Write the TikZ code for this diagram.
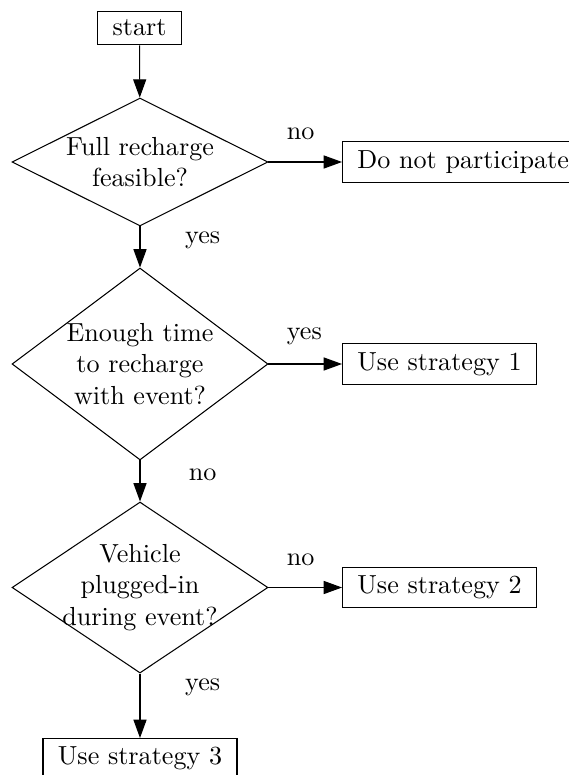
\documentclass[tikz,border=0pt]{standalone}
\usetikzlibrary{arrows.meta,shapes.geometric}

\begin{document}
\begin{tikzpicture}[
  x=0.383pt, y=-0.383pt,
  blk/.style={draw, rectangle, inner xsep=5.7pt, inner ysep=3.3pt},
  dec/.style={draw, diamond, aspect=1.33, inner sep=-5pt, minimum width=98pt, align=center},
  lnk/.style={-{Triangle[length=7pt,width=5pt]}},
  lblr/.style={pos=0, anchor=west, xshift=3.5pt, yshift=10.7pt},
  lbld/.style={pos=0, anchor=center, xshift=24pt, yshift=-5.4pt},
]
\useasboundingbox (0,0) rectangle (568,775);

\node[blk] (start) at (139.5,28) {start};
\node[dec, minimum height=49pt] (dfull) at (140,162) {Full recharge\\feasible?};
\node[blk, anchor=west] (quit) at (342,162) {Do not participate};
\node[dec, minimum height=73.5pt] (dtime) at (140,364) {Enough time\\to recharge\\with event?};
\node[blk, anchor=west] (strat1) at (342,364) {Use strategy 1};
\node[dec, minimum height=65.5pt] (dplug) at (140,587.5) {Vehicle\\plugged-in\\during event?};
\node[blk, anchor=west] (strat2) at (342,587.5) {Use strategy 2};
\node[blk, anchor=north] (strat3) at (140,738) {Use strategy 3};

\draw[lnk] (start) -- (dfull);
\draw[lnk] (dfull.east) -- (quit.west) node[lblr] {no};
\draw[lnk] (dfull.south) -- (dtime.north) node[lbld] {yes};
\draw[lnk] (dtime.east) -- (strat1.west) node[lblr] {yes};
\draw[lnk] (dtime.south) -- (dplug.north) node[lbld] {no};
\draw[lnk] (dplug.east) -- (strat2.west) node[lblr] {no};
\draw[lnk] (dplug.south) -- (strat3.north) node[lbld] {yes};
\end{tikzpicture}
\end{document}
